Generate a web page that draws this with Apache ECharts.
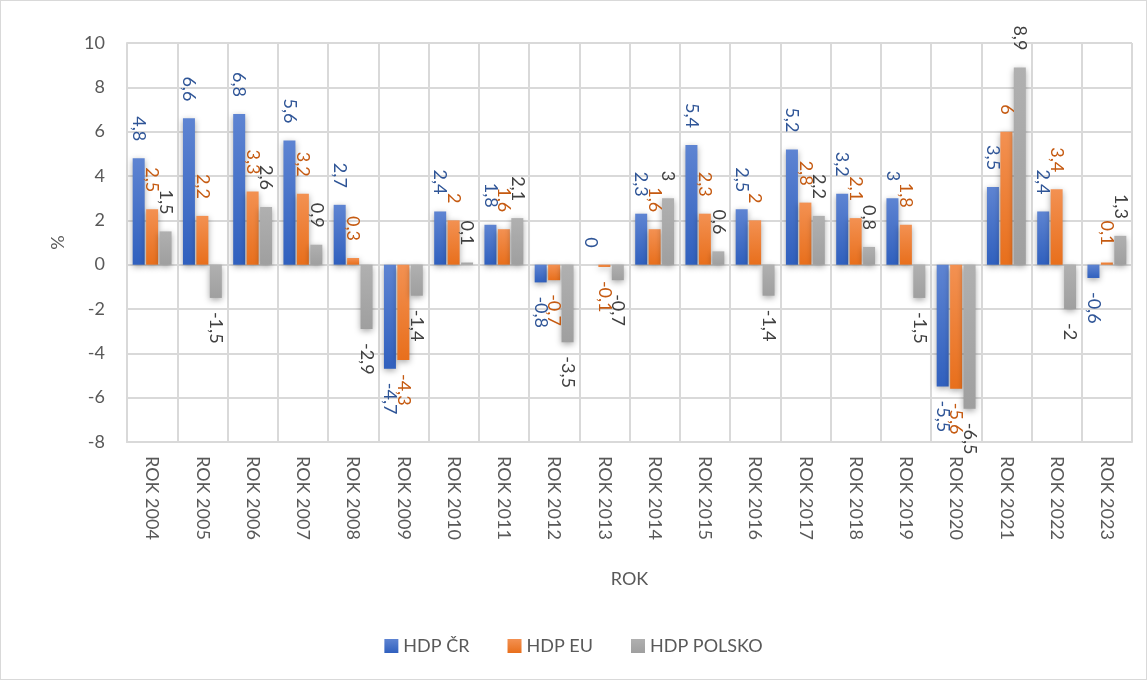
<!DOCTYPE html>
<html>
<head>
<meta charset="utf-8">
<script src="https://cdn.jsdelivr.net/npm/echarts@6/dist/echarts.min.js"></script>
<style>
html,body{margin:0;padding:0;background:#fff;}
#c{width:1147px;height:680px;box-sizing:border-box;border:1px solid #d9d9d9;}
</style>
</head>
<body>
<div id="c"></div>
<script>
const categories = ['ROK 2004','ROK 2005','ROK 2006','ROK 2007','ROK 2008','ROK 2009','ROK 2010','ROK 2011','ROK 2012','ROK 2013','ROK 2014','ROK 2015','ROK 2016','ROK 2017','ROK 2018','ROK 2019','ROK 2020','ROK 2021','ROK 2022','ROK 2023'];
const hdpCR = [4.8, 6.6, 6.8, 5.6, 2.7, -4.7, 2.4, 1.8, -0.8, 0, 2.3, 5.4, 2.5, 5.2, 3.2, 3, -5.5, 3.5, 2.4, -0.6];
const hdpEU = [2.5, 2.2, 3.3, 3.2, 0.3, -4.3, 2, 1.6, -0.7, -0.1, 1.6, 2.3, 2, 2.8, 2.1, 1.8, -5.6, 6, 3.4, 0.1];
const hdpPL = [1.5, -1.5, 2.6, 0.9, -2.9, -1.4, 0.1, 2.1, -3.5, -0.7, 3, 0.6, -1.4, 2.2, 0.8, -1.5, -6.5, 8.9, -2, 1.3];
const yTicks = {min: -8, max: 10, interval: 2};

const FONT = 'Lato, "Liberation Sans", sans-serif';
const FS = 18;
const fmt = p => String(p.value).replace('.', ',');

function grad(top, bottom) {
  return new echarts.graphic.LinearGradient(0, 0, 0, 1, [{offset: 0, color: top}, {offset: 1, color: bottom}]);
}

function makeData(values) {
  return values.map(v => ({
    value: v,
    label: v >= 0
      ? {position: 'top', rotate: -90, align: 'right', verticalAlign: 'middle', distance: 17}
      : {position: 'bottom', rotate: -90, align: 'left', verticalAlign: 'middle', distance: 14}
  }));
}

function series(name, values, c1, c2, labelColor) {
  return {
    name: name,
    type: 'bar',
    barWidth: 12,
    barGap: '12%',
    data: makeData(values),
    itemStyle: {
      color: grad(c1, c2),
      shadowColor: 'rgba(0,0,0,0.35)',
      shadowBlur: 6,
      shadowOffsetY: 2
    },
    label: {
      show: true,
      formatter: fmt,
      color: labelColor,
      fontSize: FS,
      fontFamily: FONT
    }
  };
}

const chart = echarts.init(document.getElementById('c'), null, {renderer: 'canvas'});
chart.setOption({
  animation: false,
  grid: {left: 126, right: 14, top: 42, bottom: 237, containLabel: false},
  legend: {
    bottom: 19,
    left: 'center',
    itemWidth: 14,
    itemHeight: 14,
    itemGap: 38,
    icon: 'rect',
    textStyle: {color: '#595959', fontSize: FS, fontFamily: FONT},
    data: ['HDP ČR', 'HDP EU', 'HDP POLSKO']
  },
  xAxis: {
    type: 'category',
    data: categories,
    name: 'ROK',
    nameLocation: 'middle',
    nameGap: 128,
    nameTextStyle: {color: '#595959', fontSize: FS, fontFamily: FONT},
    axisLine: {onZero: false, lineStyle: {color: '#d9d9d9', width: 2}},
    axisTick: {show: false},
    splitLine: {show: true, lineStyle: {color: '#d9d9d9', width: 2}},
    axisLabel: {rotate: -90, color: '#595959', fontSize: FS, fontFamily: FONT, margin: 14, interval: 0}
  },
  yAxis: {
    type: 'value',
    min: yTicks.min,
    max: yTicks.max,
    interval: yTicks.interval,
    name: '%',
    nameLocation: 'middle',
    nameGap: 60,
    nameTextStyle: {color: '#595959', fontSize: FS, fontFamily: FONT},
    axisLine: {show: true, lineStyle: {color: '#d9d9d9', width: 2}},
    axisTick: {show: false},
    splitLine: {show: true, lineStyle: {color: '#d9d9d9', width: 2}},
    axisLabel: {color: '#595959', fontSize: FS, fontFamily: FONT, margin: 22}
  },
  series: [
    series('HDP ČR', hdpCR, '#5e84d2', '#3060be', '#2f5597'),
    series('HDP EU', hdpEU, '#f39152', '#e86f1c', '#c55a11'),
    series('HDP POLSKO', hdpPL, '#b0b0b0', '#9f9f9f', '#404040')
  ]
});
</script>
</body>
</html>
